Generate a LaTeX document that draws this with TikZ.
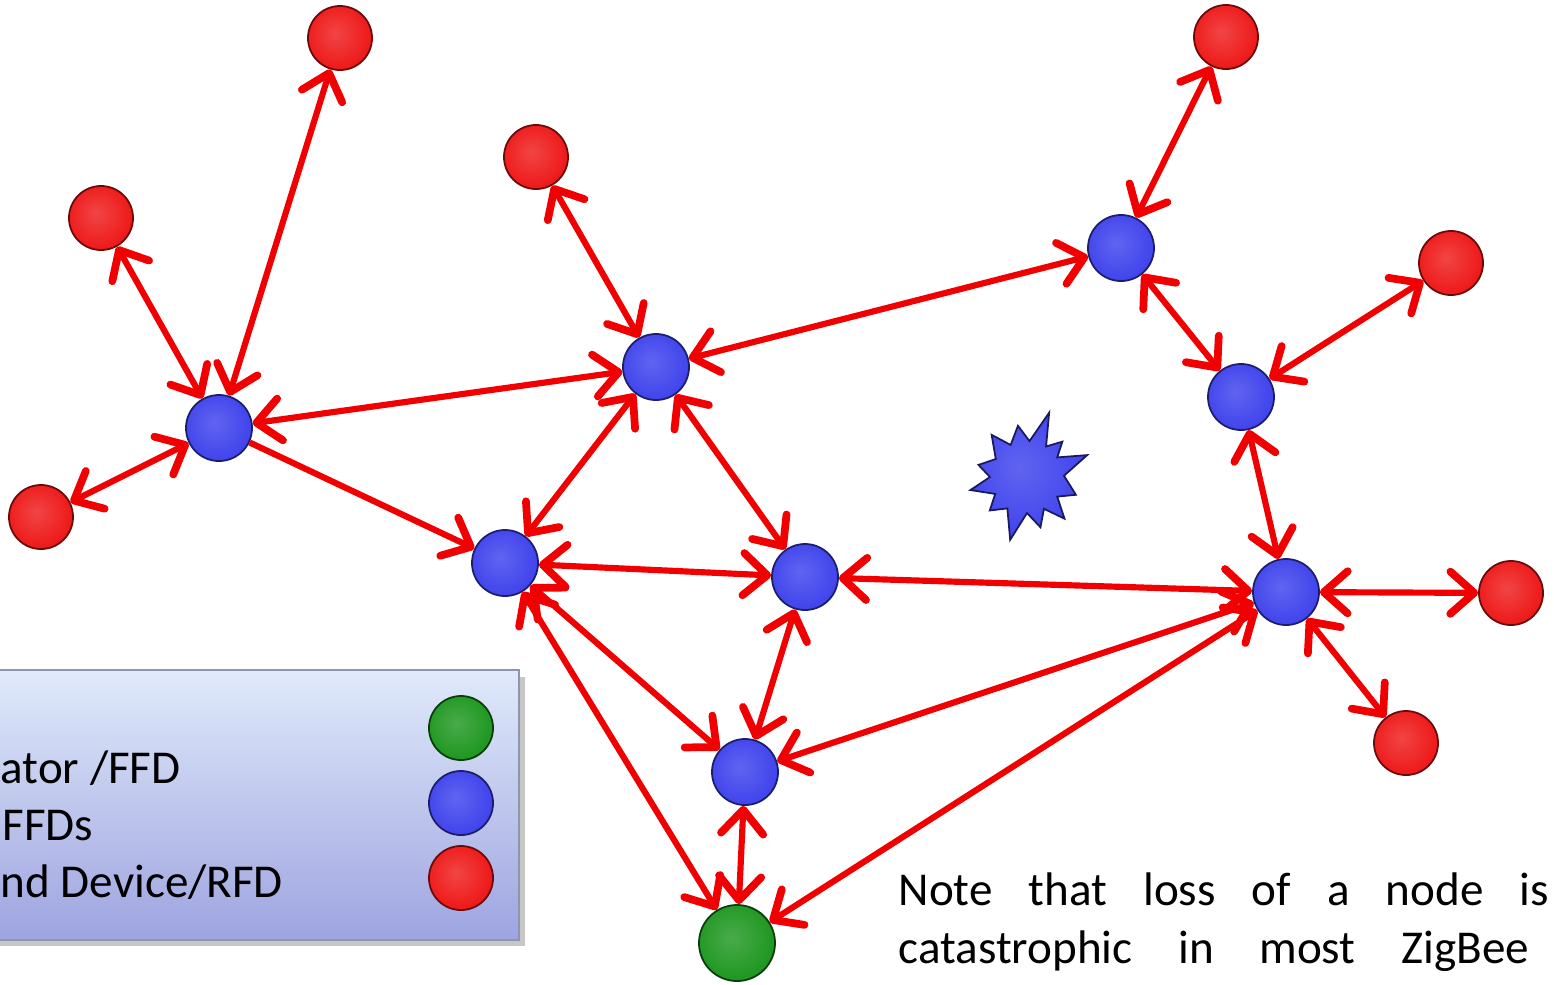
\documentclass[tikz,border=0pt]{standalone}
\usepackage{fontspec}
\setmainfont{Carlito}
\usetikzlibrary{arrows.meta}

\definecolor{nred}{RGB}{238,22,22}
\definecolor{nblue}{RGB}{62,66,236}
\definecolor{ngreen}{RGB}{28,150,30}
\definecolor{linkred}{RGB}{240,0,0}
\colorlet{nredhi}{nred!80!white}
\colorlet{nredlo}{nred!70!black}
\colorlet{nbluehi}{nblue!82!white}
\colorlet{nbluelo}{nblue!70!black}
\colorlet{ngreenhi}{ngreen!80!white}
\colorlet{ngreenlo}{ngreen!70!black}
\definecolor{boxtop}{RGB}{224,234,250}
\definecolor{boxbot}{RGB}{158,164,224}
\definecolor{boxline}{RGB}{140,150,175}

% glossy device balls
\pgfdeclareradialshading{redball}{\pgfpoint{-4bp}{4bp}}{color(0bp)=(nredhi); color(28bp)=(nred); color(46bp)=(nredlo); color(50bp)=(nredlo)}
\pgfdeclareradialshading{blueball}{\pgfpoint{-4bp}{4bp}}{color(0bp)=(nbluehi); color(28bp)=(nblue); color(46bp)=(nbluelo); color(50bp)=(nbluelo)}
\pgfdeclareradialshading{greenball}{\pgfpoint{-4bp}{4bp}}{color(0bp)=(ngreenhi); color(28bp)=(ngreen); color(46bp)=(ngreenlo); color(50bp)=(ngreenlo)}

\tikzset{
  dev/.style={circle, minimum size=#1, inner sep=0pt, line width=0.5pt},
  rfd/.style={dev=0.64cm, shading=redball, draw=nred!45!black},
  ffd/.style={dev=0.66cm, shading=blueball, draw=nblue!45!black},
  coord/.style={dev=0.76cm, shading=greenball, draw=ngreen!40!black},
  barb/.tip={Straight Barb[length=6.8pt,width=12pt,line width=2.2pt,round]},
  link/.style={draw=linkred, line width=1.75pt, barb-barb},
  link1/.style={draw=linkred, line width=1.75pt, -barb},
  txt/.style={font=\fontsize{13.4}{16}\selectfont, inner sep=0pt, anchor=base west}
}

\begin{document}
\begin{tikzpicture}[x=0.01cm, y=-0.01cm]
\useasboundingbox (0,0) rectangle (1554,984);

% legend panel
\fill[black!22] (-10,677) rectangle (525,946);
\shade[top color=boxtop, bottom color=boxbot, draw=boxline, line width=0.8pt]
  (-10,670) rectangle (519,940);
\node[txt] (l1) at (0,783) {ator /FFD};
\node[txt] (l2) at (2,840) {FFDs};
\node[txt] (l3) at (0,897) {nd Device/RFD};
\node[coord, minimum size=0.64cm] (lg) at (461,728) {};
\node[ffd, minimum size=0.64cm] (lb) at (461,803) {};
\node[rfd] (lr) at (461,878) {};

% end devices
\node[rfd] (r1) at (340,38) {};
\node[rfd] (r2) at (101,218) {};
\node[rfd] (r3) at (41,517) {};
\node[rfd] (r4) at (536,157) {};
\node[rfd] (r5) at (1226,37) {};
\node[rfd] (r6) at (1451,263) {};
\node[rfd] (r7) at (1511,593) {};
\node[rfd] (r8) at (1406,743) {};

% routers
\node[ffd] (b1) at (219,428) {};
\node[ffd] (b2) at (656,367) {};
\node[ffd] (b3) at (1121,248) {};
\node[ffd] (b4) at (1241,397) {};
\node[ffd] (b5) at (505,563) {};
\node[ffd] (b6) at (805,577) {};
\node[ffd] (b7) at (1286,592) {};
\node[ffd] (b8) at (745,772) {};

% coordinator
\node[coord] (g) at (737,943) {};

% links
\draw[link] (r1) -- (b1);
\draw[link] (r2) -- (b1);
\draw[link] (r3) -- (b1);
\draw[link] (b1) -- (b2);
\draw[link1] (b1) -- (b5);
\draw[link] (r4) -- (b2);
\draw[link] (b2) -- (b3);
\draw[link] (b2) -- (b5);
\draw[link] (b2) -- (b6);
\draw[link] (r5) -- (b3);
\draw[link] (b3) -- (b4);
\draw[link] (r6) -- (b4);
\draw[link] (b4) -- (b7);
\draw[link] (b5) -- (b6);
\draw[link] (b6) -- (b7);
\draw[link] (b7) -- (r7);
\draw[link] (b7) -- (r8);
\draw[link] (b5) -- (b8);
\draw[link] (b5) -- (g);
\draw[link] (b6) -- (b8);
\draw[link] (b8) -- (b7);
\draw[link] (b8) -- (g);
\draw[link] (b7) -- (g);

% failed node burst
\begin{scope}[shift={(1027,477)}, x=1cm, y=1cm]
  \shade[shading=blueball, draw=nblue!40!black, line width=0.5pt, line join=miter]
    (20:0.64) -- (33:0.36) -- (45:0.50) -- (58:0.36)
    -- (71:0.68) -- (86:0.36) -- (100:0.52) -- (117:0.36) -- (130:0.55)
    -- (150:0.36) -- (166:0.50) -- (180:0.37)
    -- (193:0.58) -- (208:0.36) -- (222:0.50) -- (238:0.37)
    -- (255:0.65) -- (270:0.36) -- (285:0.52) -- (298:0.36)
    -- (312:0.56) -- (327:0.36) -- (340:0.52) -- (2:0.37) -- cycle;
\end{scope}

% note
\node[txt] (n1) at (898,905) {\makebox[6.50cm][s]{Note that loss of a node is}};
\node[txt] (n2) at (898,963) {\makebox[6.30cm][s]{catastrophic in most ZigBee}};
\end{tikzpicture}
\end{document}
